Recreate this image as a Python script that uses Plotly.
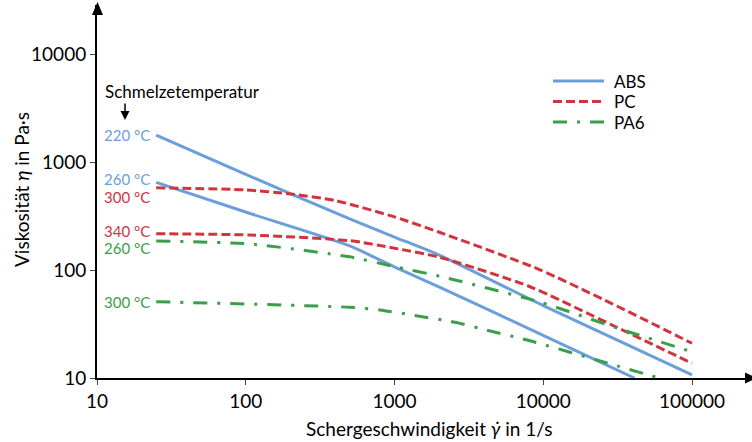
import math
import plotly.graph_objects as go

# ---- data ----
abs220_x = [25, 100, 500, 1000, 2000, 10000, 100000]
abs220_y = [1795, 774, 299, 203, 138, 47, 10.7]

abs260_x = [25, 107, 501, 1014, 2040, 9340, 41000]
abs260_y = [653, 336, 168, 106, 69, 26, 10]

pc300_x = [25, 100, 200, 400, 1000, 2000, 9340, 28900, 100000]
pc300_y = [582, 556, 509, 443, 312, 225, 102, 49, 21]

pc340_x = [25, 107, 500, 1000, 2000, 8000, 29000, 100000]
pc340_y = [218, 212, 188, 160, 132, 71, 31, 13.7]

pa6_260_x = [25, 107, 500, 1000, 2000, 9340, 32700, 100000]
pa6_260_y = [187, 175, 133, 108, 88, 51, 28.5, 17.5]

pa6_300_x = [25, 500, 800, 1400, 2550, 4400, 7800, 28300, 60000]
pa6_300_y = [51, 45.3, 42.8, 37.8, 32.9, 27.3, 22.5, 13.5, 10]

x_ticks = [10, 100, 1000, 10000, 100000]
x_ticktext = ["10", "100", "1000", "10000", "100000"]
y_ticks = [10, 100, 1000, 10000]
y_ticktext = ["10", "100", "1000", "10000"]

legend_names = ["ABS", "PC", "PA6"]

BLUE = "#6A9FDB"
RED = "#D0353E"
GREEN = "#3A9E4A"
DASH_PC = "9px,4px"
DASH_PA6 = "14px,10px,3px,10px"

FONT = "Lato"

W, H = 752, 442
L, R, T, B = 97, 2, 5, 64
PW, PH = W - L - R, H - T - B


def fx(px):
    return (px - L) / PW


def fy(py):
    return (H - B - py) / PH


series = [
    ("ABS", abs220_x, abs220_y, BLUE, "solid", "220 °C", 0),
    ("ABS", abs260_x, abs260_y, BLUE, "solid", "260 °C", 3),
    ("PC", pc300_x, pc300_y, RED, DASH_PC, "300 °C", -9),
    ("PC", pc340_x, pc340_y, RED, DASH_PC, "340 °C", 2.5),
    ("PA6", pa6_260_x, pa6_260_y, GREEN, DASH_PA6, "260 °C", -7.5),
    ("PA6", pa6_300_x, pa6_300_y, GREEN, DASH_PA6, "300 °C", 0),
]

fig = go.Figure()
annotations = []
for name, xs, ys, col, dash, lab, ysh in series:
    fig.add_trace(go.Scatter(
        x=xs, y=ys, mode="lines", name=name, showlegend=False,
        line=dict(color=col, width=3, dash=dash, shape="spline", smoothing=0.6),
    ))
    annotations.append(dict(
        x=math.log10(xs[0]), y=math.log10(ys[0]), xref="x", yref="y",
        text=lab, showarrow=False, xanchor="right", yanchor="middle",
        xshift=-4, yshift=ysh, font=dict(family=FONT, size=15, color=col),
    ))

# axis titles
annotations.append(dict(
    x=fx(429), y=fy(428), xref="paper", yref="paper",
    text="Schergeschwindigkeit <i>γ̇</i> in 1/s", showarrow=False,
    xanchor="center", yanchor="middle", font=dict(family=FONT, size=19, color="#000"),
))
annotations.append(dict(
    x=fx(21), y=fy(190), xref="paper", yref="paper",
    text="Viskosität <i>η</i> in Pa·s", showarrow=False, textangle=-90,
    xanchor="center", yanchor="middle", font=dict(family=FONT, size=19, color="#000"),
))
# Schmelzetemperatur
annotations.append(dict(
    x=fx(182), y=fy(91), xref="paper", yref="paper",
    text="Schmelzetemperatur", showarrow=False,
    xanchor="center", yanchor="middle", font=dict(family=FONT, size=17, color="#000"),
))
annotations.append(dict(
    x=fx(125), y=fy(120), xref="paper", yref="paper", text="",
    showarrow=True, ax=0, ay=-18, arrowhead=2, arrowsize=1.2, arrowwidth=1.5,
    arrowcolor="#000",
))

shapes = [
    # y-axis arrow head
    dict(type="path", xref="paper", yref="paper",
         path=f"M {fx(97.5)},{fy(2)} L {fx(92)},{fy(15)} L {fx(103)},{fy(15)} Z",
         fillcolor="#000", line=dict(width=0)),
    # x-axis arrow head
    dict(type="path", xref="paper", yref="paper",
         path=f"M {fx(757)},{fy(378)} L {fx(745)},{fy(372.5)} L {fx(745)},{fy(383.5)} Z",
         fillcolor="#000", line=dict(width=0)),
]

# custom legend (sample lines + labels)
leg_cols = [BLUE, RED, GREEN]
leg_dash = ["solid", DASH_PC, DASH_PA6]
leg_rows = [81, 101.5, 122]
for nm, col, dsh, ry in zip(legend_names, leg_cols, leg_dash, leg_rows):
    shapes.append(dict(
        type="line", xref="paper", yref="paper",
        x0=fx(553), x1=fx(604), y0=fy(ry), y1=fy(ry),
        line=dict(color=col, width=3, dash=dsh),
    ))
    annotations.append(dict(
        x=fx(612), y=fy(ry), xref="paper", yref="paper", text=nm,
        showarrow=False, xanchor="left", yanchor="middle",
        font=dict(family=FONT, size=17, color="#000"),
    ))

fig.update_layout(
    width=W, height=H,
    margin=dict(l=L, r=R, t=T, b=B),
    plot_bgcolor="white", paper_bgcolor="white",
    font=dict(family=FONT, size=19, color="#000"),
    annotations=annotations,
    shapes=shapes,
    showlegend=False,
    xaxis=dict(
        type="log", range=[1, 1 + PW / 148.75],
        tickvals=x_ticks, ticktext=x_ticktext,
        showline=True, linecolor="#000", linewidth=2,
        ticks="outside", ticklen=5, tickcolor="#444", tickwidth=1,
        showgrid=False, zeroline=False,
        tickfont=dict(family=FONT, size=19, color="#000"),
    ),
    yaxis=dict(
        type="log", range=[1, 1 + PH / 107.8],
        tickvals=y_ticks, ticktext=y_ticktext,
        showline=True, linecolor="#000", linewidth=2,
        ticks="outside", ticklen=5, tickcolor="#444", tickwidth=1,
        showgrid=False, zeroline=False,
        tickfont=dict(family=FONT, size=19, color="#000"),
    ),
)

fig.write_html("out.html")
